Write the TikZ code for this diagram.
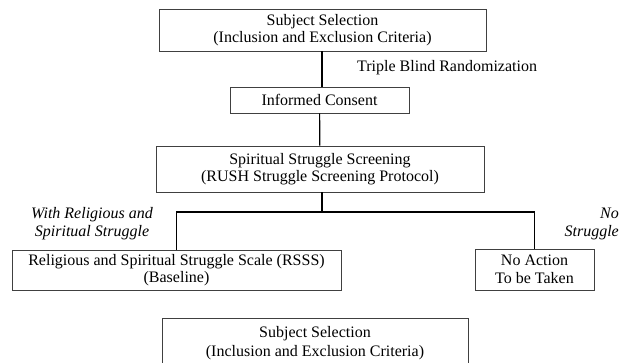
\documentclass[tikz,border=0pt]{standalone}
\usepackage{fontspec}
\setmainfont{Liberation Serif}
\usepackage{tikz}
\usetikzlibrary{positioning}

\begin{document}
\begin{tikzpicture}[x=1pt, y=-1pt, auto,
			block/.style={
					rectangle,
					draw=black!75,
					line width=0.8pt,
					fill=white,
					align=center,
					inner sep=0pt,
					font=\fontsize{16}{17.5}\selectfont
				},
			note/.style={
					align=center,
					inner sep=0pt,
					font=\fontsize{16}{18}\selectfont
				},
			line/.style={draw, line width=1.2pt}
		]
		\useasboundingbox (0,0) rectangle (619,362);
		% Place nodes
		\node [block, minimum width=327pt, minimum height=42pt] (select) at (322.5,30) {Subject Selection\\(Inclusion and Exclusion Criteria)};
		\node [block, minimum width=179pt, minimum height=26pt] (consent) at (319.5,100) {Informed Consent};
		\node [block, minimum width=328pt, minimum height=46pt] (screen) at (320,169) {Spiritual Struggle Screening\\(RUSH Struggle Screening Protocol)};
		\node [block, minimum width=329pt, minimum height=40pt] (rsss) at (176.5,270) {Religious and Spiritual Struggle Scale (RSSS)\\(Baseline)};
		\node [block, minimum width=119pt, minimum height=41pt] (noaction) at (534.5,269.5) {No Action\\To be Taken};
		\node [block, minimum width=306pt, minimum height=50pt, font=\fontsize{16}{19.5}\selectfont] (select2) at (315,343) {Subject Selection\\(Inclusion and Exclusion Criteria)};
		% Labels
		\node [note, anchor=west] (triple) at (357,68) {Triple Blind Randomization};
		\node [note, font=\fontsize{16}{18}\selectfont\itshape] (withrs) at (92,224) {With Religious and\\Spiritual Struggle};
		\node [note, align=right, anchor=east, font=\fontsize{16}{18}\selectfont\itshape] (nostr) at (619,224) {No\\Struggle};
		\coordinate (split) at (322,212);
		% Draw edges
		\path [line] (select.south -| 322,0) -- (consent.north -| 322,0);
		\path [line] (consent) -- (screen);
		\path [line] (screen.south -| split) -- (split);
		\path [line] (rsss.north) |- (split) -| (noaction.north);
	\end{tikzpicture}
\end{document}
